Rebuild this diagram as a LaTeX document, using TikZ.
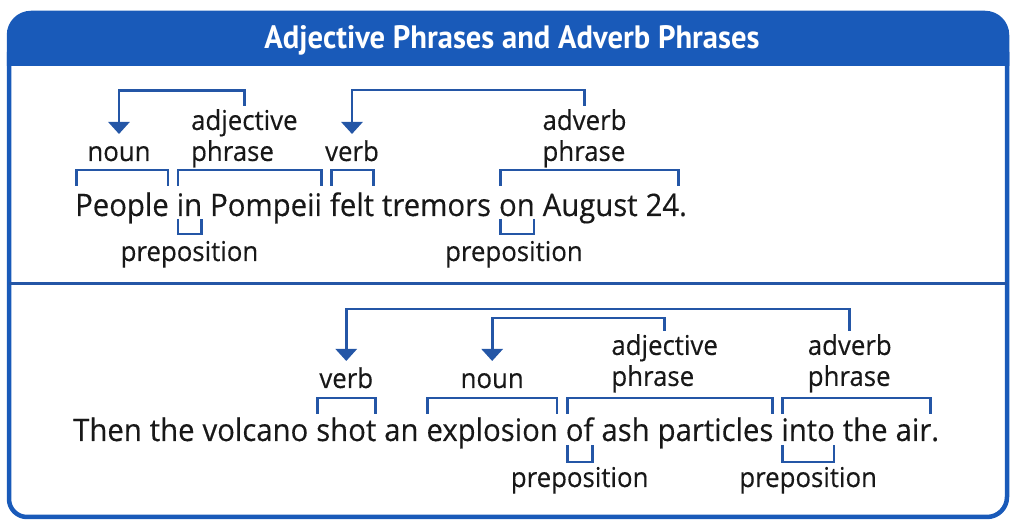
\documentclass[tikz,border=0pt]{standalone}
\usepackage{fontspec}
\usepackage{graphicx}
\newfontfamily\bodyfont[FakeStretch=0.945,FakeBold=0.35]{Open Sans}
\newfontfamily\titlefont{PT Sans}
\usetikzlibrary{arrows.meta,calc}
\definecolor{hdrblue}{RGB}{25,90,185}
\definecolor{lineblue}{RGB}{36,86,166}
\definecolor{ink}{RGB}{24,24,24}
\newcommand\brover[5]{%
  \draw[brk] ([xshift=1.5pt,yshift=#4pt]#1.base west) -- ([xshift=1.5pt,yshift=#5pt]#1.base west)
    -- ([xshift=-#3pt,yshift=#5pt]#2.base east) -- ([xshift=-#3pt,yshift=#4pt]#2.base east);}
\begin{document}
\begin{tikzpicture}[x=1pt,y=1pt,
  word/.style={font={\bodyfont\fontsize{31}{36}\selectfont}, inner sep=0pt, anchor=base west, text=ink},
  lab/.style={font={\bodyfont\fontsize{27.3}{31}\selectfont}, inner sep=0pt, text=ink},
  twolab/.style={lab, align=left, anchor=north},
  brk/.style={draw=lineblue, line width=2.8pt, line cap=butt, line join=miter},
  arr/.style={brk, -{Triangle[width=21pt,length=12pt]}},
  frame/.style={draw=hdrblue, line width=4.5pt},
  divider/.style={draw=lineblue, line width=3pt}]
\useasboundingbox (0,0) rectangle (1010,522);
% frame and header
\draw[frame] (9,470) -- (9,23) arc[start angle=180,end angle=270,radius=18] -- (987,5)
  arc[start angle=270,end angle=360,radius=20] -- (1007,470);
\fill[hdrblue] (6.75,456) -- (6.75,487) arc[start angle=180,end angle=90,radius=24.25] -- (985,511.25)
  arc[start angle=90,end angle=0,radius=24.25] -- (1009.25,456) -- cycle;
\draw[divider] (9,238) -- (1007,238);
\node[text=white, inner sep=0pt, anchor=base] (title) at (512,473)
  {\resizebox{495pt}{23pt}{\titlefont\bfseries Adjective Phrases and Adverb Phrases}};
% ---------- sentence 1 ----------
\node[word] (p1) at (75,306) {People};
\node[word] (p2) at ([xshift=7.6pt]p1.base east) {in};
\node[word] (p3) at ([xshift=7.6pt]p2.base east) {Pompeii};
\node[word] (p4) at ([xshift=7.6pt]p3.base east) {felt};
\node[word] (p5) at ([xshift=7.6pt]p4.base east) {tremors};
\node[word] (p6) at ([xshift=7.6pt]p5.base east) {on};
\node[word] (p7) at ([xshift=7.6pt]p6.base east) {August};
\node[word] (p8) at ([xshift=7.6pt]p7.base east) {24.};
\brover{p1}{p1}{1}{30}{46}
\brover{p2}{p3}{1}{30}{46}
\brover{p4}{p4}{1}{30}{46}
\brover{p6}{p8}{9}{30}{46}
\brover{p2}{p2}{1}{-3}{-18}
\brover{p6}{p6}{1}{-3}{-18}
\node[lab, anchor=base] (nounA) at ($(p1.base west)!.5!(p1.base east)+(-3,55)$) {noun};
\node[lab, anchor=base] (verbA) at ($(p4.base west)!.5!(p4.base east)+(0,55)$) {verb};
\node[twolab] (adjA) at ($(p2.base west)!.5!(p3.base east)+(-5,107)$) {adjective\\phrase};
\node[twolab] (advA) at ($(p6.base west)!.5!([xshift=-9pt]p8.base east)+(-4,107)$) {adverb\\phrase};
\node[lab, anchor=base] (prepA) at ($(p2.base west)!.5!(p2.base east)+(0,-45)$) {preposition};
\node[lab, anchor=base] (prepA2) at ($(p6.base west)!.5!(p6.base east)+(-3,-45)$) {preposition};
\draw[arr] ([yshift=3pt]adjA.north) -- ++(0,15.5) -| ([yshift=27pt]nounA.base);
\draw[arr] ([yshift=3pt]advA.north) -- ++(0,16) -| ([yshift=27pt]verbA.base);
% ---------- sentence 2 ----------
\node[word] (q1) at (73,81) {Then};
\node[word] (q2) at ([xshift=7.6pt]q1.base east) {the};
\node[word] (q3) at ([xshift=7.6pt]q2.base east) {volcano};
\node[word] (q4) at ([xshift=7.6pt]q3.base east) {shot};
\node[word] (q5) at ([xshift=7.6pt]q4.base east) {an};
\node[word] (q6) at ([xshift=7.6pt]q5.base east) {explosion};
\node[word] (q7) at ([xshift=7.6pt]q6.base east) {of};
\node[word] (q8) at ([xshift=7.6pt]q7.base east) {ash};
\node[word] (q9) at ([xshift=7.6pt]q8.base east) {particles};
\node[word] (q10) at ([xshift=7.6pt]q9.base east) {into};
\node[word] (q11) at ([xshift=7.6pt]q10.base east) {the};
\node[word] (q12) at ([xshift=7.6pt]q11.base east) {air.};
\brover{q4}{q4}{1}{27}{43}
\brover{q6}{q6}{1}{27}{43}
\brover{q7}{q9}{1}{27}{43}
\brover{q10}{q12}{9}{27}{43}
\brover{q7}{q7}{1}{-4}{-21}
\brover{q10}{q10}{1}{-4}{-21}
\node[lab, anchor=base] (verbB) at ($(q4.base west)!.5!(q4.base east)+(0,53)$) {verb};
\node[lab, anchor=base] (nounB) at ($(q6.base west)!.5!(q6.base east)+(0,53)$) {noun};
\node[twolab] (adjB) at ($(q7.base west)!.5!(q9.base east)+(-5,107)$) {adjective\\phrase};
\node[twolab] (advB) at ($(q10.base west)!.5!([xshift=-9pt]q12.base east)+(-6,107)$) {adverb\\phrase};
\node[lab, anchor=base] (prepB) at ($(q7.base west)!.5!(q7.base east)+(0,-46)$) {preposition};
\node[lab, anchor=base] (prepB2) at ($(q10.base west)!.5!(q10.base east)+(0,-46)$) {preposition};
\draw[arr] ([yshift=3pt]adjB.north) -- ++(0,13) -| ([yshift=27pt]nounB.base);
\draw[arr] ([yshift=3pt]advB.north) -- ++(0,22) -| ([yshift=27pt]verbB.base);
\end{tikzpicture}
\end{document}
